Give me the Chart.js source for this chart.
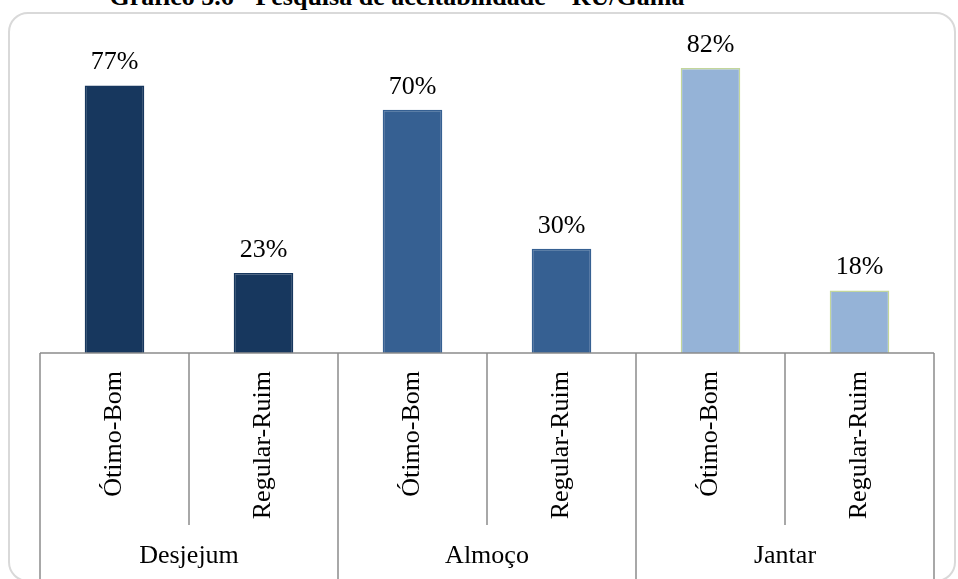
<!DOCTYPE html>
<html>
<head>
<meta charset="utf-8">
<script src="https://cdn.jsdelivr.net/npm/chart.js@4"></script>
<style>
  body { margin: 0; background: #fff; overflow: hidden; }
  #wrap { position: relative; width: 958px; height: 579px; overflow: hidden; }
  #frame {
    position: absolute; left: 8px; top: 12px; width: 944px; height: 566px;
    border: 2px solid #d9d9d9; border-radius: 20px;
  }
  #title {
    position: absolute; left: 0; top: -18px; width: 794px; text-align: center;
    font: bold 26px "Liberation Serif", serif; color: #000; white-space: nowrap;
  }
  #myChart { position: absolute; left: 0; top: 0; }
</style>
</head>
<body>
<div id="wrap">
  <div id="frame"></div>
  <div id="title">Gráfico 5.6 - Pesquisa de aceitabilidade – RU/Gama</div>
  <canvas id="myChart" width="958" height="579"></canvas>
</div>
<script>
// données
const categories = ['Ótimo-Bom', 'Regular-Ruim', 'Ótimo-Bom', 'Regular-Ruim', 'Ótimo-Bom', 'Regular-Ruim']
const groups = ['Desjejum', 'Almoço', 'Jantar']
const values = [77, 23, 70, 30, 82, 18]
const groupColors = ['#17375e', '#366092', '#95b3d7']
const groupBorders = ['#17375e', '#366092', '#c3d69b']

const barColors = values.map((v, i) => groupColors[Math.floor(i / 2)])
const barBorders = values.map((v, i) => groupBorders[Math.floor(i / 2)])

const serif = '"Liberation Serif", "Times New Roman", serif'
const lineColor = '#8c8c8c'

// étiquettes de valeur au-dessus des barres
const valueLabels = {
    id: 'valueLabels',
    afterDatasetsDraw(chart) {
        const ctx = chart.ctx
        const meta = chart.getDatasetMeta(0)
        ctx.save()
        ctx.font = '26px ' + serif
        ctx.fillStyle = '#000'
        ctx.textAlign = 'center'
        ctx.textBaseline = 'alphabetic'
        meta.data.forEach((bar, i) => {
            ctx.fillText(values[i] + '%', bar.x, bar.y - 16)
        })
        ctx.restore()
    }
}

// lignes de l'axe en deux niveaux
const axisLines = {
    id: 'axisLines',
    afterDraw(chart) {
        const ctx = chart.ctx
        const x = chart.scales.x
        const top = chart.chartArea.bottom
        const subBottom = x.bottom
        const fullBottom = chart.height
        ctx.save()
        ctx.strokeStyle = lineColor
        ctx.lineWidth = 1.5
        ctx.beginPath()
        ctx.moveTo(x.left, top)
        ctx.lineTo(x.right, top)
        for (let i = 0; i <= categories.length; i++) {
            let px
            if (i === 0) px = x.left
            else if (i === categories.length) px = x.right
            else px = (x.getPixelForValue(i - 1) + x.getPixelForValue(i)) / 2
            ctx.moveTo(px, top)
            ctx.lineTo(px, i % 2 === 0 ? fullBottom : subBottom)
        }
        ctx.stroke()
        ctx.restore()
    }
}

const ctx = document.getElementById('myChart').getContext('2d')
const myChart = new Chart(ctx, {
    type: 'bar',
    data: {
        labels: categories,
        datasets: [{
            data: values,
            backgroundColor: barColors,
            borderColor: barBorders,
            borderWidth: 1.5,
            barPercentage: 0.4,
            categoryPercentage: 1
        }]
    },
    options: {
        responsive: false,
        animation: false,
        layout: { padding: { left: 40, right: 24, top: 41, bottom: 0 } },
        plugins: {
            legend: { display: false },
            tooltip: { enabled: false }
        },
        scales: {
            y: { display: false, min: 0, max: 89.8 },
            x: {
                position: 'bottom',
                grid: { display: false, drawTicks: false },
                border: { display: false },
                ticks: {
                    minRotation: 90, maxRotation: 90, padding: 18,
                    color: '#000', font: { family: serif, size: 26 }
                },
                afterFit: (scale) => { scale.height = 172 }
            },
            groups: {
                type: 'category',
                position: 'bottom',
                labels: groups,
                offset: true,
                grid: { display: false, drawTicks: false },
                border: { display: false },
                ticks: {
                    padding: 16, maxRotation: 0,
                    color: '#000', font: { family: serif, size: 26 }
                },
                afterFit: (scale) => { scale.height = 54 }
            }
        }
    },
    plugins: [valueLabels, axisLines]
})
</script>
</body>
</html>
